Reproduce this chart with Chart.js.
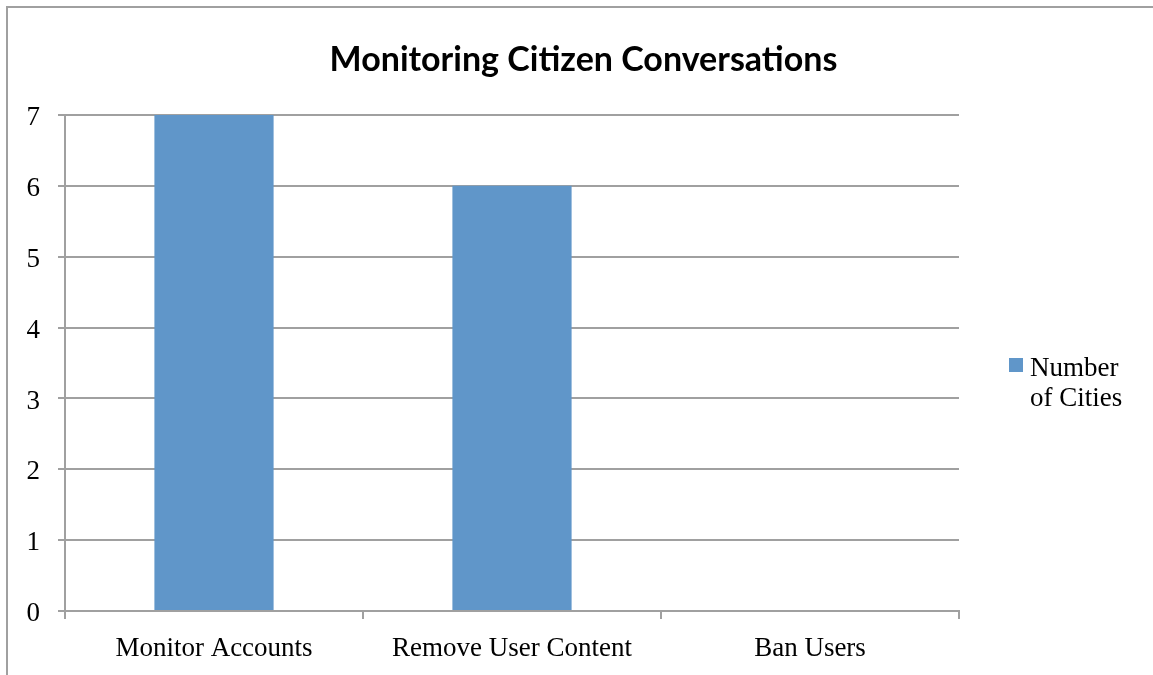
<!DOCTYPE html>
<html>
<head>
<meta charset="utf-8">
<script src="https://cdn.jsdelivr.net/npm/chart.js@4.4.1/dist/chart.umd.min.js"></script>
<style>
  html, body { margin: 0; padding: 0; background: #fff; overflow: hidden; }
  #wrap { position: relative; width: 1153px; height: 675px; }
  #frame { position: absolute; left: 6px; top: 6px; width: 2000px; height: 2000px;
           border-left: 2px solid #a0a0a0; border-top: 2px solid #a0a0a0; }
  #chart { position: absolute; left: 0; top: 0; }
  #legend { position: absolute; left: 1009px; top: 352px; font-family: "Liberation Serif", serif;
            font-size: 27px; line-height: 30px; color: #000; }
  #legend .box { position: absolute; left: 0; top: 6px; width: 14px; height: 14px; }
  #legend .txt { position: absolute; left: 21px; top: 0; white-space: nowrap; }
</style>
</head>
<body>
<div id="wrap">
  <div id="frame"></div>
  <canvas id="chart" width="1153" height="675"></canvas>
  <div id="legend"><span class="box"></span><span class="txt"></span></div>
</div>
<script>
  const categories = ['Monitor Accounts', 'Remove User Content', 'Ban Users'];
  const cityCounts = [7, 6, 0];
  const seriesName = 'Number of Cities';
  const legendLines = ['Number', 'of Cities'];
  const yTicks = [0, 1, 2, 3, 4, 5, 6, 7];
  const chartTitle = 'Monitoring Citizen Conversations';

  const barColor = '#6096c9';
  const lineColor = '#a0a0a0';
  const serif = '"Liberation Serif", "Times New Roman", serif';

  const legend = document.getElementById('legend');
  legend.querySelector('.box').style.background = barColor;
  legend.querySelector('.txt').innerHTML = legendLines.join('<br>');

  // title centred on the whole canvas, not just the plot area
  const pageTitle = {
    id: 'pageTitle',
    afterDraw: function (chart) {
      const ctx = chart.ctx;
      ctx.save();
      ctx.font = 'bold 34px Lato, "Open Sans", sans-serif';
      ctx.fillStyle = '#000';
      ctx.textAlign = 'center';
      ctx.textBaseline = 'middle';
      ctx.fillText(chartTitle, chart.width / 2 + 7, 60);
      ctx.restore();
    }
  };

  new Chart(document.getElementById('chart'), {
    type: 'bar',
    data: {
      labels: categories,
      datasets: [{
        label: seriesName,
        data: cityCounts,
        backgroundColor: barColor,
        categoryPercentage: 0.8,
        barPercentage: 0.5
      }]
    },
    options: {
      responsive: false,
      animation: false,
      layout: { padding: { left: 0, right: 194, top: 115, bottom: 0 } },
      plugins: {
        legend: { display: false },
        tooltip: { enabled: false },
        title: { display: false }
      },
      scales: {
        x: {
          grid: { offset: true, drawOnChartArea: false, drawTicks: true, tickLength: 8, color: lineColor, lineWidth: 2 },
          border: { color: lineColor, width: 2 },
          ticks: { color: '#000', font: { family: serif, size: 27 }, padding: 14, maxRotation: 0 },
          afterFit: function (scale) { scale.height = 64; }
        },
        y: {
          min: 0,
          max: 7,
          afterBuildTicks: function (scale) { scale.ticks = yTicks.map(function (v) { return { value: v }; }); },
          grid: { color: lineColor, lineWidth: 2, tickLength: 7 },
          border: { color: lineColor, width: 2 },
          ticks: { color: '#000', font: { family: serif, size: 27 }, padding: 18, labelOffset: 3 },
          afterFit: function (scale) { scale.width = 65; }
        }
      }
    },
    plugins: [pageTitle]
  });
</script>
</body>
</html>
